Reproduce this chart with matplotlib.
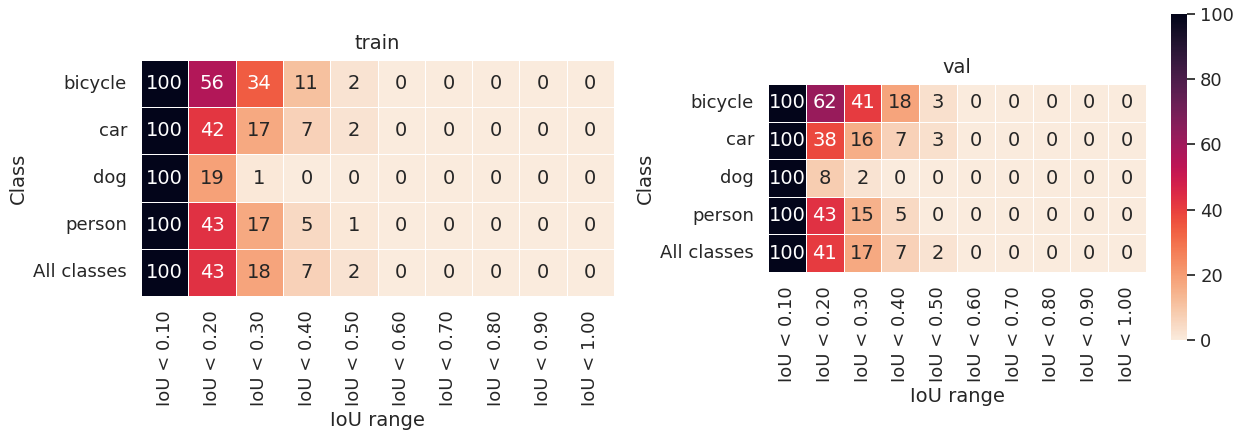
import numpy as np
import pandas as pd
import matplotlib
matplotlib.use("Agg")
import matplotlib.pyplot as plt
import seaborn as sns

classes = ["bicycle", "car", "dog", "person", "All classes"]
iou_labels = ["IoU < 0.10", "IoU < 0.20", "IoU < 0.30", "IoU < 0.40", "IoU < 0.50",
              "IoU < 0.60", "IoU < 0.70", "IoU < 0.80", "IoU < 0.90", "IoU < 1.00"]

train_bicycle = [100, 56, 34, 11, 2, 0, 0, 0, 0, 0]
train_car = [100, 42, 17, 7, 2, 0, 0, 0, 0, 0]
train_dog = [100, 19, 1, 0, 0, 0, 0, 0, 0, 0]
train_person = [100, 43, 17, 5, 1, 0, 0, 0, 0, 0]
train_all = [100, 43, 18, 7, 2, 0, 0, 0, 0, 0]

val_bicycle = [100, 62, 41, 18, 3, 0, 0, 0, 0, 0]
val_car = [100, 38, 16, 7, 3, 0, 0, 0, 0, 0]
val_dog = [100, 8, 2, 0, 0, 0, 0, 0, 0, 0]
val_person = [100, 43, 15, 5, 0, 0, 0, 0, 0, 0]
val_all = [100, 41, 17, 7, 2, 0, 0, 0, 0, 0]

train_df = pd.DataFrame([train_bicycle, train_car, train_dog, train_person, train_all],
                        index=classes, columns=iou_labels)
val_df = pd.DataFrame([val_bicycle, val_car, val_dog, val_person, val_all],
                      index=classes, columns=iou_labels)

sns.set_theme(style="ticks", font_scale=1.3)

W, H = 1245, 437
fig = plt.figure(figsize=(W / 100, H / 100), dpi=100)


def px_axes(left, top, right, bottom):
    return fig.add_axes([left / W, 1 - bottom / H, (right - left) / W, (bottom - top) / H])


ax1 = px_axes(141, 60, 614, 296)
ax2 = px_axes(768, 84, 1146, 272)
cax = px_axes(1171, 14, 1187, 340)

sns.heatmap(train_df, ax=ax1, cmap="rocket_r", vmin=0, vmax=100, annot=True, fmt="d",
            linewidths=0.7, linecolor="white", cbar=False,
            annot_kws={"fontsize": 14})
sns.heatmap(val_df, ax=ax2, cmap="rocket_r", vmin=0, vmax=100, annot=True, fmt="d",
            linewidths=0.7, linecolor="white", cbar=True, cbar_ax=cax,
            annot_kws={"fontsize": 14})

for ax, title in [(ax1, "train"), (ax2, "val")]:
    ax.set_title(title, fontsize=14, pad=8)
    ax.set_xlabel("IoU range", fontsize=14)
    ax.set_ylabel("Class", fontsize=14)
    ax.tick_params(axis="both", labelsize=13, length=0, pad=10)
    ax.set_xticklabels(iou_labels, rotation=90)
    ax.set_yticklabels(classes, rotation=0)

cax.tick_params(labelsize=13)
cax.set_yticks([0, 20, 40, 60, 80, 100])

fig.savefig("out.png", dpi=100)
